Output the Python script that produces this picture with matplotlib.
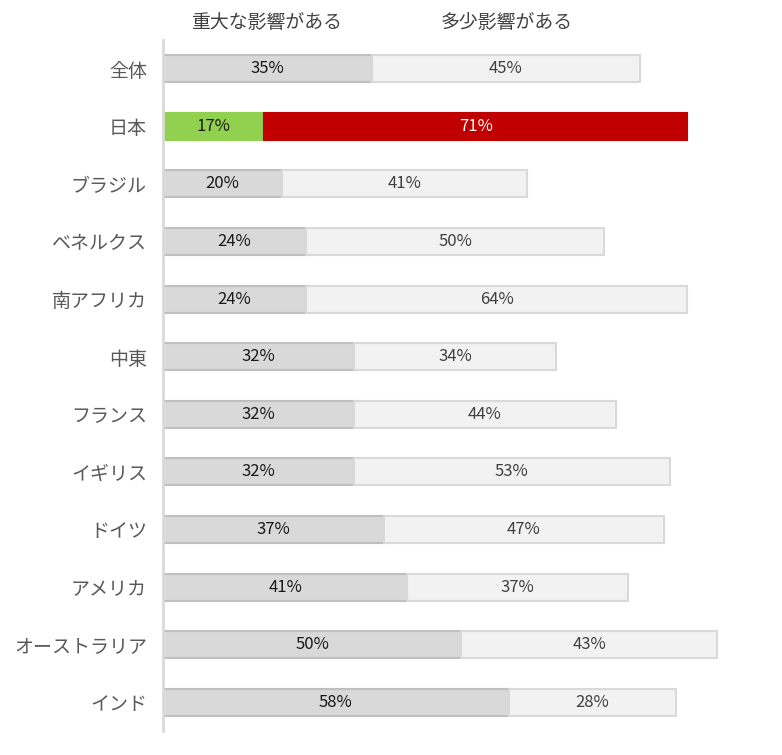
import matplotlib
matplotlib.use("Agg")
import matplotlib.pyplot as plt

plt.rcParams['font.family'] = ['Noto Sans CJK JP', 'DejaVu Sans']

categories = ["全体", "日本", "ブラジル", "ベネルクス", "南アフリカ", "中東",
              "フランス", "イギリス", "ドイツ", "アメリカ", "オーストラリア", "インド"]
major = [35, 17, 20, 24, 24, 32, 32, 32, 37, 41, 50, 58]
some = [45, 71, 41, 50, 64, 34, 44, 53, 47, 37, 43, 28]
series_names = ["重大な影響がある", "多少影響がある"]
highlight = "日本"

fig = plt.figure(figsize=(7.82, 7.55), dpi=100)
ax = fig.add_axes([163/782, 1 - 731/755, 596/782, 691/755])

ys = list(range(len(categories)))
h = 0.47
for y, cat, a, b in zip(ys, categories, major, some):
    if cat == highlight:
        c1, e1, c2, e2 = "#92d050", "#92d050", "#c00000", "#c00000"
        t1, t2 = "#1a1a1a", "white"
    else:
        c1, e1, c2, e2 = "#d9d9d9", "#bfbfbf", "#f2f2f2", "#d9d9d9"
        t1, t2 = "#1a1a1a", "#404040"
    ax.barh(y, a, height=h, left=0, color=c1, edgecolor=e1, linewidth=1.5)
    ax.barh(y, b, height=h, left=a, color=c2, edgecolor=e2, linewidth=1.5)
    ax.text(a / 2, y, f"{a}%", ha="center", va="center", fontsize=12, color=t1)
    ax.text(a + b / 2, y, f"{b}%", ha="center", va="center", fontsize=12, color=t2)

ax.set_xlim(0, 100)
ax.set_ylim(len(categories) - 0.5, -0.5)
ax.set_yticks(ys)
ax.set_yticklabels(categories, fontsize=13.7, color="#595959")
ax.tick_params(axis="y", length=0, pad=11.5)
ax.set_xticks([])
for s in ["top", "right", "bottom"]:
    ax.spines[s].set_visible(False)
ax.spines["left"].set_color("#d9d9d9")
ax.spines["left"].set_linewidth(2)

fig.text(267/782, 1 - 22/755, series_names[0], ha="center", va="center",
         fontsize=13.6, color="#404040")
fig.text(507/782, 1 - 22/755, series_names[1], ha="center", va="center",
         fontsize=13.6, color="#404040")

fig.savefig("out.png", dpi=100, facecolor="white")
